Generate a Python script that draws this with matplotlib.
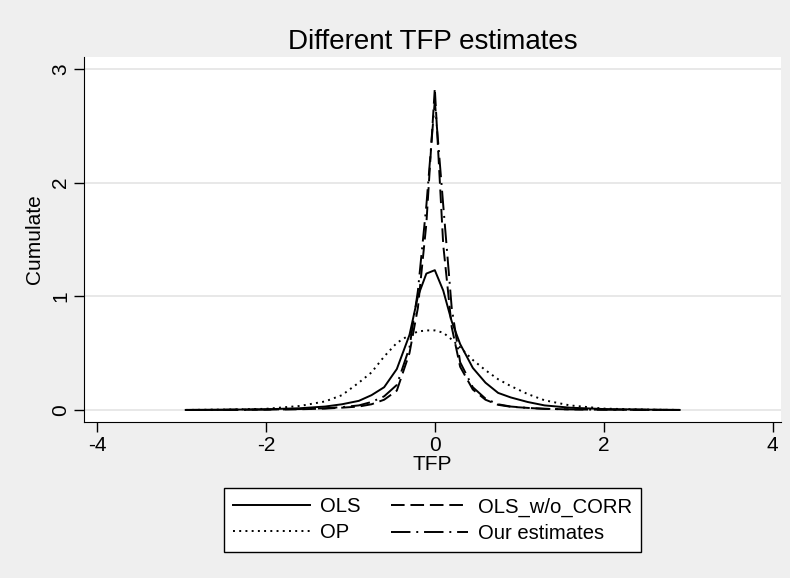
import matplotlib
matplotlib.use("Agg")
import matplotlib.pyplot as plt

plt.rcParams["font.family"] = ["Liberation Sans", "DejaVu Sans"]
plt.rcParams["axes.unicode_minus"] = False

# TFP grid and density of each estimate
tfp = [-2.95, -2.5, -2.0, -1.6, -1.3, -1.1, -0.9, -0.75, -0.6, -0.45, -0.3, -0.2,
       -0.1, 0.0, 0.1, 0.2, 0.3, 0.45, 0.6, 0.75, 0.9, 1.1, 1.3, 1.6, 2.0, 2.5, 2.9]
ols = [0.0, 0.002, 0.006, 0.015, 0.03, 0.05, 0.08, 0.13, 0.2, 0.36, 0.66, 1.0,
       1.2, 1.23, 1.05, 0.78, 0.58, 0.37, 0.24, 0.15, 0.11, 0.07, 0.04, 0.02, 0.008, 0.003, 0.0]
op = [0.0, 0.003, 0.01, 0.035, 0.075, 0.13, 0.24, 0.33, 0.47, 0.59, 0.66, 0.69,
      0.70, 0.70, 0.68, 0.62, 0.55, 0.44, 0.35, 0.27, 0.21, 0.14, 0.085, 0.04, 0.012, 0.003, 0.0]
ols_wo_corr = [0.0, 0.001, 0.003, 0.006, 0.012, 0.02, 0.03, 0.05, 0.09, 0.17, 0.5, 0.9,
               1.64, 2.83, 1.45, 0.73, 0.38, 0.18, 0.09, 0.045, 0.028, 0.018, 0.01, 0.005, 0.002, 0.001, 0.0]
our_est = [0.0, 0.001, 0.003, 0.008, 0.015, 0.025, 0.04, 0.07, 0.12, 0.22, 0.55, 1.05,
           1.8, 2.72, 1.8, 0.9, 0.42, 0.2, 0.1, 0.05, 0.03, 0.018, 0.01, 0.005, 0.002, 0.001, 0.0]

x_ticks = [-4, -2, 0, 2, 4]
y_ticks = [0, 1, 2, 3]

BG = "#efefef"
GRID = "#e6e6e6"

fig = plt.figure(figsize=(7.9, 5.78), dpi=100, facecolor=BG)
ax = fig.add_axes([0.1063, 0.2699, 0.8823, 0.6315])
ax.set_facecolor("white")

lw = 1.4
l_ols, = ax.plot(tfp, ols, color="black", lw=lw, label="OLS")
l_op, = ax.plot(tfp, op, color="black", lw=lw, linestyle=(0, (1, 2.2)), label="OP")
l_wo, = ax.plot(tfp, ols_wo_corr, color="black", lw=lw, linestyle=(0, (7, 3)),
                label="OLS_w/o_CORR")
l_our, = ax.plot(tfp, our_est, color="black", lw=lw, linestyle=(0, (10, 3, 1, 3)),
                 label="Our estimates")

ax.set_xlim(-4.155, 4.1)
ax.set_ylim(-0.106, 3.106)
ax.set_xticks(x_ticks)
ax.set_yticks(y_ticks)
ax.set_yticklabels([str(v) for v in y_ticks], rotation=90, va="center")
ax.yaxis.grid(True, color=GRID, lw=1.3)
ax.set_axisbelow(True)
ax.spines[["right", "top"]].set_visible(False)
ax.tick_params(direction="out", length=7, width=1, labelsize=15, pad=3)

ax.set_xlabel("TFP", fontsize=15, labelpad=0)
ax.set_ylabel("Cumulate", fontsize=15, labelpad=5)
ax.set_title("Different TFP estimates", fontsize=20, pad=6)

leg = fig.legend([l_ols, l_op, l_wo, l_our],
                 ["OLS", "OP", "OLS_w/o_CORR", "Our estimates"],
                 ncol=2, loc="center", bbox_to_anchor=(0.5475, 0.1003),
                 fontsize=14.6, fancybox=False, edgecolor="black",
                 facecolor="white", framealpha=1, handlelength=3.8,
                 handletextpad=0.5, columnspacing=1.5, labelspacing=0.35,
                 borderpad=0.45)
leg.get_frame().set_linewidth(1.0)

fig.savefig("out.png", dpi=100, facecolor=BG)
